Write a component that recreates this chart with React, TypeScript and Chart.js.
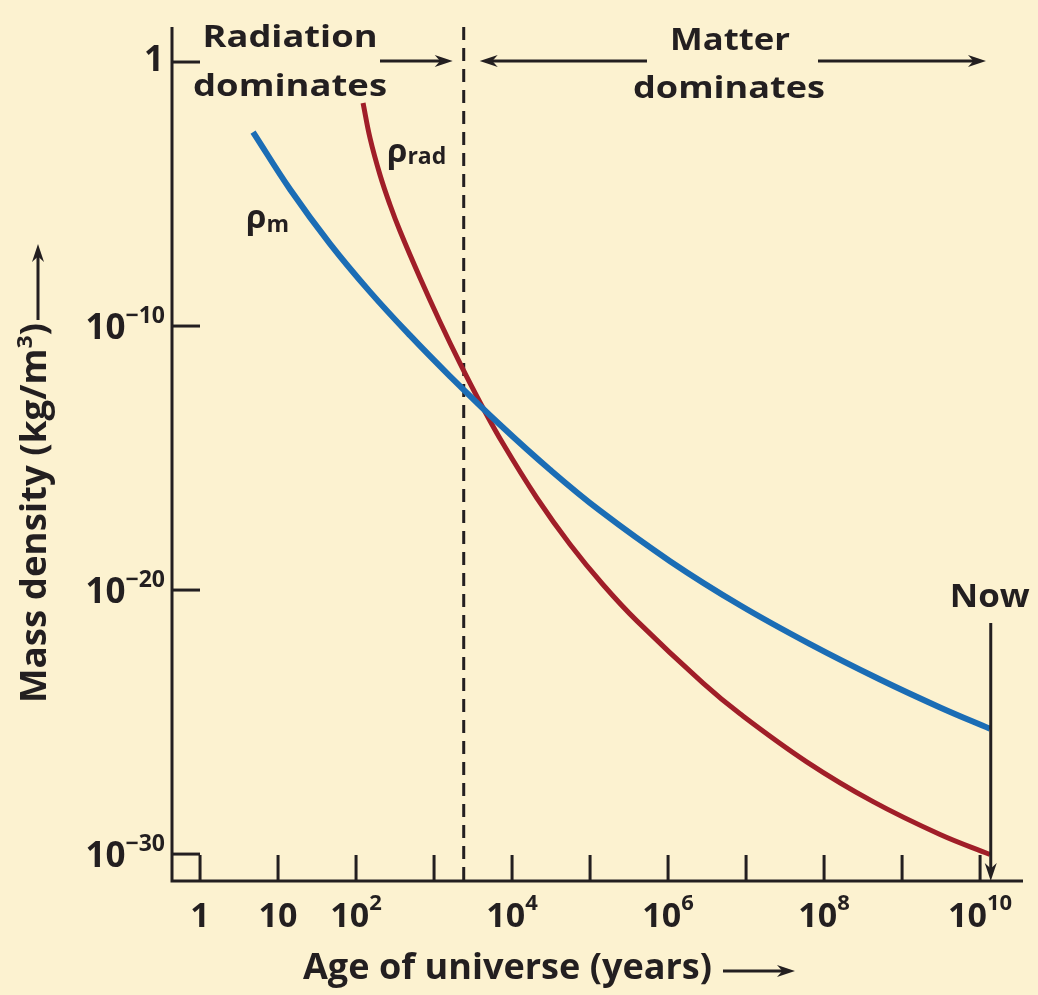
import React, { useEffect, useRef } from "react";
import { Chart, registerables } from "chart.js";

Chart.register(...registerables);

// ---------- data ----------
const matterAge = [4.78, 14.3, 46.4, 151, 492, 1603, 7015, 3.07e4, 1.34e5, 1.06e6, 8.37e6, 6.62e7, 5.22e8, 3.07e9, 1.34e10];
const matterDensity = [2.23e-3, 1.49e-5, 1.3e-7, 1.97e-9, 4.41e-11, 1.25e-12, 1.82e-14, 3.6e-16, 1.01e-17, 1.24e-19, 2.65e-21, 8.93e-23, 4.07e-24, 3.57e-25, 5.57e-26];
const radiationAge = [123, 151, 203, 273, 366, 662, 1194, 2153, 3890, 7674, 2.09e4, 5.55e4, 1.47e5, 4.01e5, 2.81e6, 8.37e6, 6.05e7, 4.25e8, 3.07e9, 1.34e10];
const radiationDensity = [2.8e-2, 1.32e-3, 5.25e-5, 3.83e-6, 3.96e-7, 6.58e-9, 1.42e-10, 3.83e-12, 1.28e-13, 3.45e-15, 3.0e-17, 5.33e-19, 1.59e-20, 6.64e-22, 2.97e-24, 2.05e-25, 3.05e-27, 9.66e-29, 5.52e-30, 9.66e-31];
const equalityAge = 2400;
const nowAge = 1.37e10;

const xTickExponents = [0, 1, 2, 3, 4, 5, 6, 7, 8, 9, 10];
const xLabelExponents = [0, 1, 2, 4, 6, 8, 10];
const yTickExponents = [0, -10, -20, -30];

const xMin = 0.437;
const xMax = 3.55e10;
const yMin = 9.55e-32;
const yMax = 21.2;

const xTitle = "Age of universe (years)";
const yTitleMain = "Mass density (kg/m";
const yTitleSup = "3";
const yTitleEnd = ")";

// ---------- styles ----------
const FONT = '"Open Sans", "DejaVu Sans", sans-serif';
const INK = "#231F20";
const BG = "#FCF2D0";
const BLUE = "#1B6DB5";
const RED = "#A01E28";

type Run = { t: string; size: number; dy?: number };

function drawRuns(
  ctx: CanvasRenderingContext2D,
  runs: Run[],
  x: number,
  y: number,
  align: "left" | "center" | "right",
  width?: number
) {
  let total = 0;
  const ws = runs.map((r) => {
    ctx.font = `bold ${r.size}px ${FONT}`;
    const w = ctx.measureText(r.t).width;
    total += w;
    return w;
  });
  const sx = width ? width / total : 1;
  const drawn = total * sx;
  const start = align === "left" ? x : align === "center" ? x - drawn / 2 : x - drawn;
  ctx.save();
  ctx.translate(start, y);
  ctx.scale(sx, 1);
  ctx.textAlign = "left";
  ctx.textBaseline = "alphabetic";
  ctx.fillStyle = INK;
  let cx = 0;
  runs.forEach((r, i) => {
    ctx.font = `bold ${r.size}px ${FONT}`;
    ctx.fillText(r.t, cx, r.dy || 0);
    cx += ws[i];
  });
  ctx.restore();
}

function arrow(ctx: CanvasRenderingContext2D, x1: number, y1: number, x2: number, y2: number) {
  const ang = Math.atan2(y2 - y1, x2 - x1);
  const L = 18;
  const W = 6;
  ctx.beginPath();
  ctx.moveTo(x1, y1);
  ctx.lineTo(x2 - Math.cos(ang) * L * 0.6, y2 - Math.sin(ang) * L * 0.6);
  ctx.stroke();
  ctx.save();
  ctx.translate(x2, y2);
  ctx.rotate(ang);
  ctx.beginPath();
  ctx.moveTo(0, 0);
  ctx.lineTo(-L, -W);
  ctx.lineTo(-L * 0.7, 0);
  ctx.lineTo(-L, W);
  ctx.closePath();
  ctx.fill();
  ctx.restore();
}

const decor = {
  id: "decor",
  beforeDatasetsDraw(chart: any) {
    const { ctx, chartArea, scales } = chart;
    const dx = scales.x.getPixelForValue(equalityAge);
    ctx.save();
    ctx.strokeStyle = INK;
    ctx.lineWidth = 3;
    ctx.setLineDash([13, 8]);
    ctx.beginPath();
    ctx.moveTo(dx, chartArea.top);
    ctx.lineTo(dx, chartArea.bottom);
    ctx.stroke();
    ctx.restore();
  },
  afterDraw(chart: any) {
    const { ctx, chartArea, scales } = chart;
    const { left, right, top, bottom } = chartArea;
    const xs = scales.x;
    const ys = scales.y;
    ctx.save();
    ctx.strokeStyle = INK;
    ctx.fillStyle = INK;
    ctx.lineWidth = 3;
    ctx.lineCap = "butt";

    // axes
    ctx.beginPath();
    ctx.moveTo(left, top);
    ctx.lineTo(left, bottom + 1.5);
    ctx.moveTo(left - 1.5, bottom);
    ctx.lineTo(right, bottom);
    ctx.stroke();

    // y ticks (inward)
    yTickExponents.forEach((e) => {
      const y = ys.getPixelForValue(Math.pow(10, e));
      ctx.beginPath();
      ctx.moveTo(left, y);
      ctx.lineTo(left + 28, y);
      ctx.stroke();
      if (e === 0) {
        drawRuns(ctx, [{ t: "1", size: 35 }], left - 8, y + 9, "right");
      } else {
        drawRuns(
          ctx,
          [
            { t: "10", size: 35 },
            { t: "\u2212" + String(-e), size: 23, dy: -16 },
          ],
          left - 7,
          y + 13,
          "right"
        );
      }
    });

    // x ticks (inward)
    xTickExponents.forEach((e) => {
      const x = xs.getPixelForValue(Math.pow(10, e));
      ctx.beginPath();
      ctx.moveTo(x, bottom);
      ctx.lineTo(x, bottom - 26);
      ctx.stroke();
    });
    xLabelExponents.forEach((e) => {
      const x = xs.getPixelForValue(Math.pow(10, e));
      const runs: Run[] =
        e === 0
          ? [{ t: "1", size: 34 }]
          : e === 1
          ? [{ t: "10", size: 34 }]
          : [
              { t: "10", size: 34 },
              { t: String(e), size: 22, dy: -17 },
            ];
      drawRuns(ctx, runs, x, bottom + 46, "center");
    });

    // axis titles
    drawRuns(ctx, [{ t: xTitle, size: 35 }], 303, 979, "left", 409);
    arrow(ctx, 723, 971, 795, 971);

    ctx.save();
    ctx.translate(46, 513);
    ctx.rotate(-Math.PI / 2);
    drawRuns(
      ctx,
      [
        { t: yTitleMain, size: 35 },
        { t: yTitleSup, size: 22, dy: -14 },
        { t: yTitleEnd, size: 35 },
      ],
      0,
      0,
      "center",
      380
    );
    ctx.restore();
    arrow(ctx, 38, 320, 38, 244);

    // era annotations
    const dx = xs.getPixelForValue(equalityAge);
    drawRuns(ctx, [{ t: "Radiation", size: 31 }], 290, 47, "center", 175);
    drawRuns(ctx, [{ t: "dominates", size: 31 }], 290, 96, "center", 194);
    arrow(ctx, 380, 61, dx - 11, 61);
    drawRuns(ctx, [{ t: "Matter", size: 31 }], 730, 50, "center", 120);
    drawRuns(ctx, [{ t: "dominates", size: 31 }], 729, 98, "center", 192);
    arrow(ctx, 647, 61, dx + 16, 61);
    arrow(ctx, 818, 61, 986, 61);

    // Now marker
    const nx = xs.getPixelForValue(nowAge);
    drawRuns(ctx, [{ t: "Now", size: 33 }], nx - 1, 607, "center", 80);
    arrow(ctx, nx, 623, nx, bottom);

    // curve labels
    drawRuns(
      ctx,
      [
        { t: "\u03C1", size: 33 },
        { t: "m", size: 23, dy: 4 },
      ],
      246,
      228,
      "left"
    );
    drawRuns(
      ctx,
      [
        { t: "\u03C1", size: 33 },
        { t: "rad", size: 23, dy: 2 },
      ],
      387,
      162,
      "left"
    );

    ctx.restore();
  },
};

export default function App() {
  const ref = useRef<HTMLCanvasElement>(null);
  useEffect(() => {
    const canvas = ref.current;
    if (!canvas) return;
    const chart = new Chart(canvas, {
      type: "line",
      data: {
        datasets: [
          {
            label: "\u03C1m",
            data: matterAge.map((a, i) => ({ x: a, y: matterDensity[i] })),
            borderColor: BLUE,
            borderWidth: 6,
            pointRadius: 0,
            tension: 0.4,
            fill: false,
          },
          {
            label: "\u03C1rad",
            data: radiationAge.map((a, i) => ({ x: a, y: radiationDensity[i] })),
            borderColor: RED,
            borderWidth: 5,
            pointRadius: 0,
            tension: 0.4,
            fill: false,
          },
        ],
      },
      options: {
        responsive: false,
        animation: false,
        events: [],
        layout: { padding: { left: 172, top: 27, right: 15, bottom: 114 } },
        plugins: { legend: { display: false }, tooltip: { enabled: false } },
        scales: {
          x: { type: "logarithmic", min: xMin, max: xMax, display: false },
          y: { type: "logarithmic", min: yMin, max: yMax, display: false },
        },
      } as any,
      plugins: [decor as any],
    });
    let alive = true;
    if ((document as any).fonts && (document as any).fonts.load) {
      (document as any).fonts.load(`bold 30px "Open Sans"`).then(() => {
        if (alive) chart.draw();
      });
    }
    return () => {
      alive = false;
      chart.destroy();
    };
  }, []);
  return (
    <div style={{ position: "fixed", left: 0, top: 0, width: 1038, height: 995, background: BG }}>
      <canvas ref={ref} width={1038} height={995} style={{ display: "block" }} />
    </div>
  );
}
